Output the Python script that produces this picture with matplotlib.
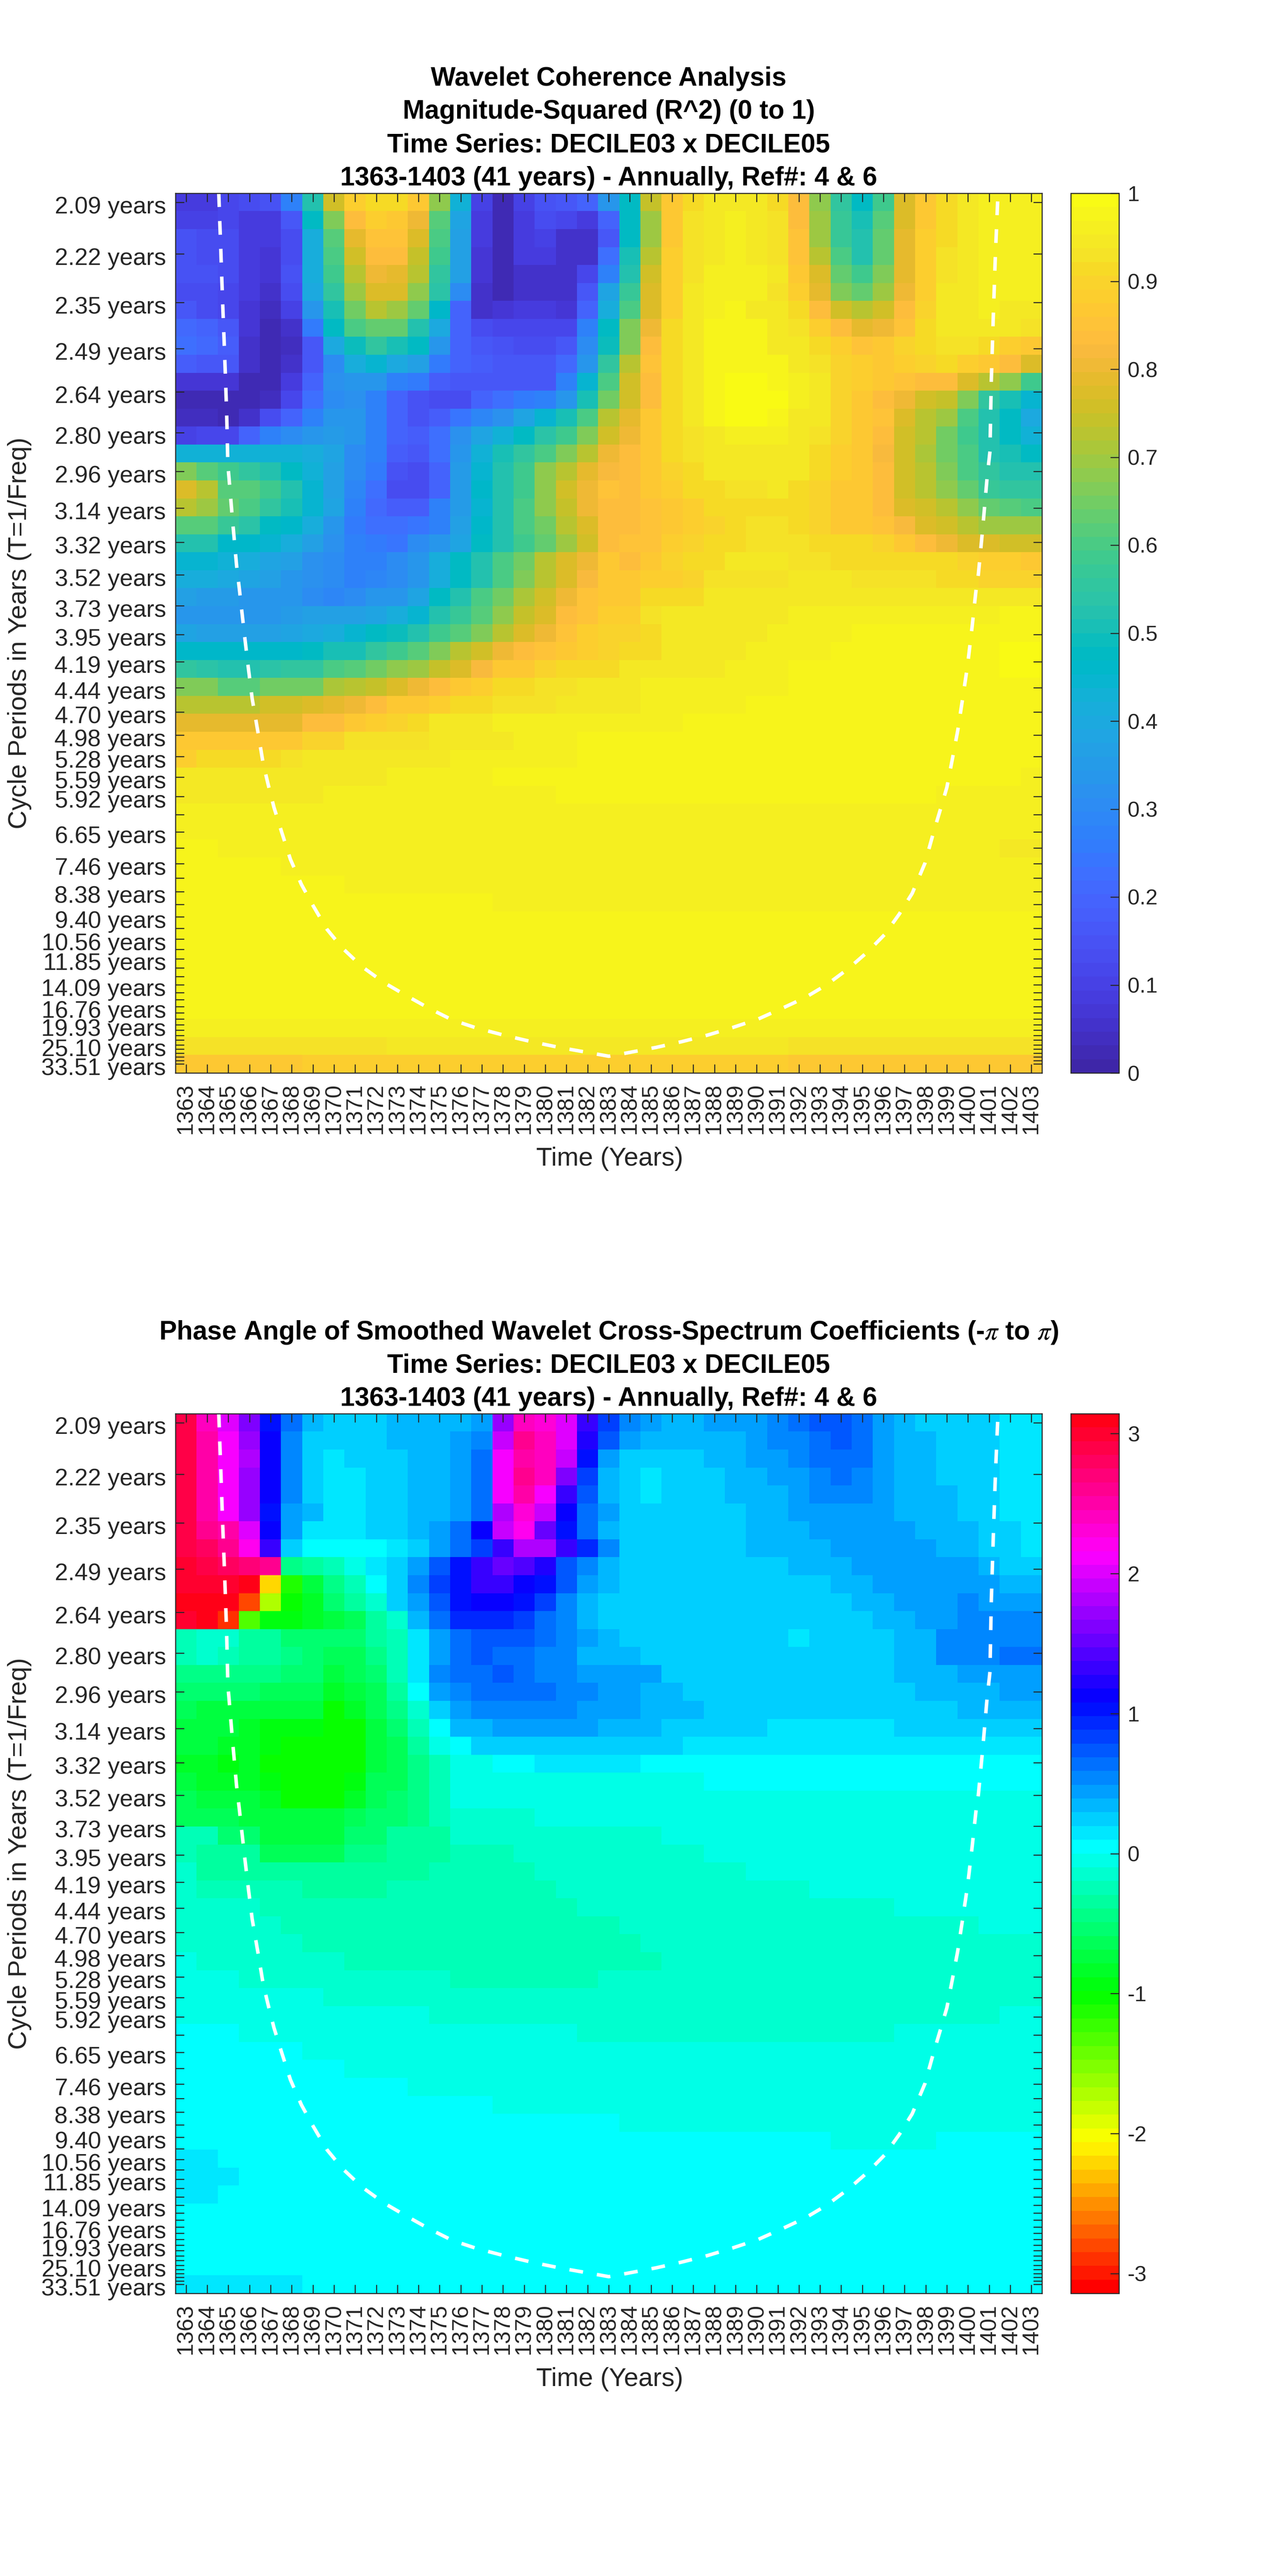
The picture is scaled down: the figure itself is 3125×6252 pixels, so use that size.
import colorsys
import numpy as np
import matplotlib
matplotlib.use("Agg")
import matplotlib.pyplot as plt
from matplotlib.colors import ListedColormap
from matplotlib.transforms import ScaledTranslation

plt.rcParams['font.family'] = ['Liberation Sans', 'DejaVu Sans']
plt.rcParams['mathtext.fontset'] = 'stix'

YEARS = list(range(1363, 1404))
PERIOD_MAX = 33.51
PERIODS = [PERIOD_MAX / 2 ** (k / 12) for k in range(48, -1, -1)]
LABELLED = [2.09, 2.22, 2.35, 2.49, 2.64, 2.80, 2.96, 3.14, 3.32, 3.52, 3.73, 3.95, 4.19, 4.44, 4.70,
            4.98, 5.28, 5.59, 5.92, 6.65, 7.46, 8.38, 9.40, 10.56, 11.85, 14.09, 16.76, 19.93, 25.10, 33.51]

# Coherence values in percent, one list per period row, 41 years each
C01 = [8,9,12,14,15,28,53,76,88,92,92,86,68,43,10,3,10,15,17,19,33, 48,74,87,92,95,95,95,92,84,68,55,47,58,77,87,92,95,96,96,96]
C02 = [10,10,12,9,9,17,47,66,84,88,87,81,62,38,9,2,8,13,11,9,19, 47,70,87,93,95,96,95,93,84,69,57,50,61,78,87,92,95,96,96,96]
C03 = [15,14,14,9,8,14,42,62,79,85,85,78,60,37,8,2,8,10,6,6,17, 47,70,87,93,95,96,95,93,85,69,57,52,63,79,88,92,95,96,96,96]
C04 = [15,14,13,9,7,14,42,60,76,84,84,74,58,36,7,2,8,9,5,6,22, 50,73,88,93,95,96,95,93,85,72,60,53,64,79,88,93,95,96,96,96]
C05 = [15,15,13,9,7,15,42,58,72,80,79,72,56,36,7,2,6,5,5,12,28, 53,76,88,93,96,96,96,95,87,77,64,58,66,79,88,93,95,96,96,96]
C06 = [13,13,12,9,6,14,40,56,70,77,77,68,54,30,6,3,5,5,5,17,38, 57,77,89,95,96,96,96,93,89,79,66,64,70,80,88,94,95,96,96,96]
C07 = [17,13,12,7,4,10,33,51,65,72,70,63,46,19,6,7,8,8,7,19,42, 60,78,89,95,96,97,95,95,92,84,75,72,75,84,90,95,95,96,95,95]
C08 = [21,19,16,7,3,6,25,47,60,63,63,53,40,19,13,12,12,12,11,27,47, 66,80,91,95,97,97,97,95,93,89,83,79,80,85,92,95,95,95,94,93]
C09 = [22,21,18,6,2,4,16,40,49,55,51,47,33,19,17,15,13,13,16,31,49, 67,83,91,95,97,97,97,95,95,91,88,85,86,90,92,93,93,92,89,86]
C10 = [18,17,16,5,2,6,17,30,42,45,40,36,25,20,18,16,16,17,21,33,55, 72,85,92,95,97,97.5,97.5,97,95,93,90,88,86,88,90,91,89,87,83,78]
C11 = [7,7,7,3,3,9,20,32,33,33,28,25,18,17,17,17,17,17,27,44,60, 75,84,91,95,97,100,100,97.5,96,95,90,88,86,85,84,83,78,73,68,58]
C12 = [2,2,2,2,4,12,22,31,32,28,20,15,14,13,20,23,26,27,33,50,65, 75,84,91,95,97,100,100,100,96,94,90,87,84,80,76,74,66,56,51,44]
C13 = [4,4,3,6,13,19,27,33,33,27,19,15,18,24,29,32,38,44,50,60,72, 79,87,92,95,97,100,100,97,95,94,90,87,85,78,73,69,60,53,47,40]
C14 = [10,11,12,20,27,31,34,35,33,27,20,18,22,32,38,43,47,54,59,67,76, 80,87,92,93,95,96,96,96,95,93,90,87,84,76,72,65,58,53,48,43]
C15 = [43,43,43,43,43,43,42,39,30,27,18,17,23,33,43,50,55,60,66,73,81, 83,87,92,93,95,95,95,95,95,92,89,87,82,76,71,65,60,53,50,48]
C16 = [66,62,58,55,52,47,43,37,30,25,15,14,20,35,45,52,59,68,72,79,82, 83,87,90,92,94,95,95,95,95,92,89,87,83,76,72,67,60,55,53,53]
C17 = [77,73,62,61,58,52,45,36,29,22,14,13,19,35,46,52,58,68,75,81,85, 84,87,88,91,92,93,93,94,92,90,87,86,83,76,73,68,63,57,56,56]
C18 = [73,69,64,60,55,50,45,38,28,21,18,18,27,35,44,52,60,68,74,80,84, 84,85,86,89,92,92,92,92,92,90,87,86,83,78,75,72,68,63,62,60]
C19 = [61,61,57,54,48,46,42,34,25,23,22,24,28,37,46,53,60,65,72,77,83, 83,85,87,88,90,92,93,93,92,90,87,87,85,82,78,75,72,70,69,69]
C20 = [53,53,46,46,45,41,37,32,28,26,24,30,33,38,47,52,59,64,70,76,83, 85,85,88,90,91,92,93,93,93,92,91,91,90,86,84,81,78,77,76,76]
C21 = [45,44,43,41,38,37,32,30,27,27,30,33,41,48,53,60,65,72,77,81,86, 84,86,90,91,92,94,94,94,93,93,92,92,92,92,92,91,90,88,88,86]
C22 = [42,42,40,38,37,34,32,30,27,29,30,34,41,47,53,60,66,72,78,82,86, 87,88,89,90,93,93,93,93,94,94,94,93,93,93,93,91,91,90,90,90]
C23 = [37,35,35,34,33,33,31,29,31,33,33,38,47,53,60,65,71,76,81,85,86, 87,91,91,92,94,94,95,95,95,95,95,95,95,95,95,95,95,95,95,95]
C24 = [34,34,34,34,34,35,36,37,37,39,41,44,52,57,62,68,74,78,83,85,88, 88,93,94,94,94.5,95,95,95,96.5,96.5,96.5,96.5,96.5,96.5,96.5,96.5,96.5,96.5,97.5,97.5]
C25 = [39,36,36,36,37,38,40,42,44,47,49,53,59,62,66,73,77,80,85,88,90, 90,92,94,94.5,94.5,95,95,96.5,96.5,96.5,96.5,97.5,97.5,97.5,97.5,97.5,97.5,97.5,97.5,97.5]
C26 = [46,46,46,46,46,46,47,50,51,55,58,62,66,72,76,81,84,85,87,89,90, 92,92,94,94,95,95,96.5,96.5,96.5,96.5,97.5,97.5,97.5,97.5,97.5,97.5,97.5,97.5,100,100]
C27 = [55,54,53,53,54,55,56,60,62,65,68,70,74,77,82,87,87,90,91,91,91, 94,94,94,95,95,96.5,96.5,96.5,97.5,97.5,97.5,97.5,97.5,97.5,97.5,97.5,97.5,97.5,100,100]
C28 = [66,66,62,62,65,65,65,71,72,74,78,80,84,87,88,91,92,93,93,94,94, 95,96,96,96,96.5,96.5,96.5,96.5,97.5,97.5,97.5,97.5,97.5,97.5,97.5,97.5,97.5,97.5,97.5,97.5]
C29 = [72,72,72,72,75,75,78,79,81,83,86,87,89,91,92,93,93,93,94,94,95, 95,96.5,96.5,96.5,96.5,96.5,97.5,97.5,97.5,97.5,97.5,97.5,97.5,97.5,97.5,97.5,97.5,97.5,97.5,97.5]
C30 = [79,79,79,79,79,79,83,83,86,88,90,92,94,95,95,96,96,96,96,96,96, 96.5,96.5,96.5]+[97.5]*17
C31 = [86,86,86,86,87,87,90,90,93,93,93,93,94,95,95,95,96,96,96,97.5,97.5]+[97.5]*20
C32 = [88,91,91,91,91,93,94,94,94,94,95,95,95,96.5,96.5,96.5,96.5,96.5,96.5,97.5,97.5]+[97.5]*20
C33 = [94.5]*6+[95]*4+[96.5]*5+[97.5]*25+[96.5]
C34 = [95]*7+[96.5]*11+[97.5]*18+[96.5]*5
C35 = [96.5]*41
C36 = [96.5]*41
C37 = [97.5]*2+[96.5]*37+[95]*2
C38 = [97.5]*5+[96.5]*36
C39 = [97.5]*8+[96.5]*33
C40 = [97.5]*15+[96.5]*26
C41 = [97.5]*41
C42 = [97.5]*41
C43 = [97.5]*41
C44 = [97.5]*41
C45 = [97.5]*41
C46 = [97.5]*41
C47 = [96]*41
C48 = [93]*10+[94.5]*19+[93]*12
C49 = [87]*6+[88]*23+[87]*12

# Phase angles in hundredths of a radian
P01 = [285,245,205,160,105,65,38,28,28,28,33,33,33,33,40,168,245,230,200,135,85, 55,45,35,35,42,42,42,50,60,72,72,60,42,38,28,28,28,20,17,17]
P02 = [290,255,210,170,112,55,27,27,27,27,33,33,33,42,50,195,260,240,200,120,70, 45,30,30,38,38,38,42,52,52,60,72,60,42,36,36,28,28,28,18,18]
P03 = [290,255,210,185,110,55,27,15,20,20,24,33,33,42,62,210,255,240,195,105,48, 27,27,27,27,36,36,42,42,55,62,62,62,42,36,36,28,28,28,18,18]
P04 = [285,255,210,170,110,55,27,17,17,24,24,33,33,42,62,210,260,245,160,80,38, 28,12,27,27,27,33,33,42,45,58,68,58,44,36,36,27,27,27,17,17]
P05 = [285,255,210,170,112,55,27,15,15,24,24,33,33,42,62,210,250,210,130,70,38, 28,12,27,27,27,33,33,33,45,55,55,55,44,36,36,36,26,26,15,15]
P06 = [285,255,210,170,105,45,30,15,15,24,24,33,33,42,68,185,230,190,115,60,42, 27,27,27,27,27,27,38,38,45,45,45,45,45,36,36,36,26,26,13,13]
P07 = [285,265,255,200,112,45,14,14,14,20,20,33,42,60,115,195,220,155,102,60,33, 27,27,27,27,27,27,38,38,38,45,45,45,45,45,36,36,36,22,22,12]
P08 = [285,275,260,220,135,25,5,5,5,5,15,27,42,62,85,135,185,185,135,95,52, 27,27,27,27,27,27,33,33,33,33,45,45,45,45,45,38,38,20,20,12]
P09 = [295,285,280,270,260,-40,-30,-20,-5,12,27,42,70,105,135,155,145,120,78,55,38]+[27]*8+[35]*3+[45]*6+[38,20,20]
P10 = [300,295,300,314,-225,-110,-70,-40,-20,5,27,52,80,105,130,130,115,105,72,45,33]+[26]*10+[33]*2+[45]*6+[32]*2
P11 = [305,305,310,-275,-175,-105,-85,-55,-30,-12,20,45,72,105,110,110,105,80,52,38,22]+[24]*11+[33]*2+[43]*3+[52]+[42]*3
P12 = [295,305,-290,-135,-95,-90,-85,-70,-60,-35,-10,30,68,90,95,95,80,60,52,35,25]+[24]*12+[33]*2+[43]*2+[52]*4
P13 = [-20,-10,-18,-35,-38,-55,-55,-55,-55,-38,-20,10,45,62,72,72,72,60,52,40,34]+[24]*8+[10]+[24]*4+[37]*2+[50]*2+[55]*3
P14 = [-28,-15,-20,-32,-35,-40,-55,-60,-60,-45,-22,12,45,65,72,68,60,55,52,38,33]+[38]+[24]*12+[37]*2+[50]*3+[60]*2
P15 = [-45,-45,-45,-45,-45,-55,-55,-75,-65,-55,-25,12,50,65,65,72,60,55,50,42,42]+[40]*2+[24]*11+[36]*3+[45]*4
P16 = [-55,-55,-55,-55,-65,-65,-65,-85,-75,-60,-30,5,42,55,60,60,60,60,52,52,48]+[48]+[36]*2+[24]*11+[33]*4+[42]*2
P17 = [-60,-70,-70,-70,-75,-75,-75,-100,-85,-65,-40,-10,28,42,52,52,52,52,52,45,45]+[48]+[33]*3+[24]*12+[33]*4
P18 = [-75,-75,-75,-85,-95,-95,-95,-105,-100,-70,-55,-20,5,30,38,45,45,45,45,45,38]+[38]*2+[26]*5+[15]*6+[28]*7
P19 = [-75,-75,-80,-85,-95,-100,-100,-105,-105,-70,-65,-30,-5,5,20,28,28,28,28,28,28]+[26]*3+[15]*17
P20 = [-80,-80,-95,-85,-100,-105,-105,-105,-105,-70,-65,-45,-20,-5,-5,5,5,15,15,15,15]+[15]+[5]*19
P21 = [-75,-80,-80,-80,-90,-100,-105,-105,-95,-65,-60,-45,-20,-8,-8,-5,-5,-5,-5,-5,-5]+[-5]*4+[5]*16
P22 = [-60,-75,-75,-75,-85,-100,-100,-100,-80,-60,-55,-45,-20,-8,-8,-5,-5,-5,-5,-5,-5]+[-5]*20
P23 = [-65,-65,-65,-70,-70,-70,-70,-70,-60,-55,-50,-40,-25,-15,-15,-15,-15,-5,-5,-5,-5]+[-5]*20
P24 = [-25]*2+[-50]*2+[-75]*4+[-55]*2+[-35]*3+[-15]*8+[-15]*2+[-5]*18
P25 = [-20]+[-35]*3+[-60]*4+[-45]*2+[-35]*3+[-25]*3+[-15]*9+[-5]*16
P26 = [-15]+[-35]*11+[-25]*5+[-15]*10+[-5]*14
P27 = [-15]+[-25]*5+[-35]*4+[-25]*8+[-15]*12+[-5]*11
P28 = [-15]*4+[-25]*15+[-15]*15+[-5]*7
P29 = [-15]*5+[-25]*16+[-15]*17+[-5]*3
P30 = [-15]*6+[-25]*16+[-15]*19
P31 = [-5]+[-15]*7+[-25]*15+[-15]*18
P32 = [-5]*3+[-15]*10+[-25]*7+[-15]*21
P33 = [-5]*7+[-15]*34
P34 = [-5]*12+[-15]*27+[-5]*2
P35 = [5]*3+[-5]*16+[-15]*15+[-5]*7
P36 = [5]*6+[-5]*35
P37 = [5]*8+[-5]*33
P38 = [5]*11+[-5]*30
P39 = [5]*15+[-5]*26
P40 = [5]*21+[-5]*20
P41 = [5]*31+[-5]*5+[5]*5
P42 = [15]*2+[5]*39
P43 = [15]*3+[5]*38
P44 = [15]*2+[5]*39
P45 = [5]*41
P46 = [5]*41
P47 = [5]*41
P48 = [5]*41
P49 = [15]*6+[5]*35

COH_ROWS = [C01,C02,C03,C04,C05,C06,C07,C08,C09,C10,C11,C12,C13,C14,C15,C16,C17,C18,C19,C20,C21,C22,C23,C24,C25,
            C26,C27,C28,C29,C30,C31,C32,C33,C34,C35,C36,C37,C38,C39,C40,C41,C42,C43,C44,C45,C46,C47,C48,C49]
PHA_ROWS = [P01,P02,P03,P04,P05,P06,P07,P08,P09,P10,P11,P12,P13,P14,P15,P16,P17,P18,P19,P20,P21,P22,P23,P24,P25,
            P26,P27,P28,P29,P30,P31,P32,P33,P34,P35,P36,P37,P38,P39,P40,P41,P42,P43,P44,P45,P46,P47,P48,P49]
bad = [(n, i + 1, len(r)) for n, rows in (("C", COH_ROWS), ("P", PHA_ROWS)) for i, r in enumerate(rows) if len(r) != 41]
if bad:
    print("BAD ROW LENGTHS", bad)
    COH_ROWS = [(list(r) + [r[-1]] * 41)[:41] for r in COH_ROWS]
    PHA_ROWS = [(list(r) + [r[-1]] * 41)[:41] for r in PHA_ROWS]
COHERENCE = np.array(COH_ROWS, float) / 100
PHASE = np.array(PHA_ROWS, float) / 100

# Cone of influence: (year position, row position)
COI_X = [2.55,2.64,2.73,2.83,2.92,2.98,3.2,3.39,3.52,3.76,3.95,4.13,4.41,4.65,4.88,5.16,5.53,5.94,6.46,7.02,7.67,8.41,
         9.35,10.37,11.39,12.5,13.6,14.75,16.05,17.35,18.66,19.96,21.0,21.62,23.24,24.45,25.66,26.87,28.09,29.3,30.3,
         31.3,32.33,33.24,34.05,34.75,35.36,35.97,36.37,36.7,37.0,37.28,37.52,37.74,37.98,38.19,38.39,38.49,38.69,
         38.9,39.04,39.1,39.2,39.3,39.42]
COI_Y = [0.5,3.45,6.5,9.55,12.6,15.6,18.7,21.2,22.5,25.04,26.95,28.65,30.56,32.26,33.4,34.7,36.1,37.6,39.0,40.2,41.5,42.56,
         43.6,44.47,45.17,45.9,46.55,47.0,47.4,47.76,48.08,48.35,48.57,48.44,48.08,47.76,47.4,46.97,46.49,45.85,45.3,
         44.6,43.7,42.77,41.8,40.65,39.5,37.8,36.1,34.8,33.6,31.9,30.4,28.7,26.8,24.7,22.5,21.74,19.26,
         16.4,14.88,11.07,7.26,3.83,0.5]

TITLES_TOP = ["Wavelet Coherence Analysis", "Magnitude-Squared (R^2) (0 to 1)",
              "Time Series: DECILE03 x DECILE05", "1363-1403 (41 years) - Annually, Ref#: 4 & 6"]
TITLES_BOTTOM = [r"Phase Angle of Smoothed Wavelet Cross-Spectrum Coefficients (-$\pi$ to $\pi$)",
                 "Time Series: DECILE03 x DECILE05", "1363-1403 (41 years) - Annually, Ref#: 4 & 6"]

PARULA = [
 (0.2422,0.1504,0.6603),(0.2504,0.1650,0.7076),(0.2578,0.1818,0.7511),(0.2647,0.1978,0.7952),(0.2706,0.2147,0.8364),
 (0.2751,0.2342,0.8710),(0.2783,0.2559,0.8991),(0.2803,0.2782,0.9221),(0.2813,0.3006,0.9414),(0.2810,0.3228,0.9579),
 (0.2795,0.3447,0.9717),(0.2760,0.3667,0.9829),(0.2699,0.3892,0.9906),(0.2602,0.4123,0.9952),(0.2440,0.4358,0.9988),
 (0.2206,0.4603,0.9973),(0.1963,0.4847,0.9892),(0.1834,0.5074,0.9798),(0.1786,0.5289,0.9682),(0.1764,0.5499,0.9520),
 (0.1687,0.5703,0.9359),(0.1540,0.5902,0.9218),(0.1460,0.6091,0.9079),(0.1380,0.6276,0.8973),(0.1248,0.6459,0.8883),
 (0.1113,0.6635,0.8763),(0.0952,0.6798,0.8598),(0.0689,0.6948,0.8394),(0.0297,0.7082,0.8163),(0.0036,0.7203,0.7917),
 (0.0067,0.7312,0.7660),(0.0433,0.7411,0.7394),(0.0964,0.7500,0.7120),(0.1408,0.7584,0.6842),(0.1717,0.7670,0.6554),
 (0.1938,0.7758,0.6251),(0.2161,0.7843,0.5923),(0.2470,0.7918,0.5567),(0.2906,0.7973,0.5188),(0.3406,0.8008,0.4789),
 (0.3909,0.8029,0.4354),(0.4456,0.8024,0.3909),(0.5044,0.7993,0.3480),(0.5616,0.7942,0.3045),(0.6174,0.7876,0.2612),
 (0.6720,0.7793,0.2227),(0.7242,0.7698,0.1910),(0.7738,0.7598,0.1646),(0.8203,0.7498,0.1535),(0.8634,0.7406,0.1596),
 (0.9035,0.7330,0.1774),(0.9393,0.7288,0.2100),(0.9728,0.7298,0.2394),(0.9956,0.7434,0.2371),(0.9970,0.7659,0.2199),
 (0.9952,0.7861,0.1967),(0.9892,0.8086,0.1816),(0.9786,0.8288,0.1732),(0.9676,0.8568,0.1490),(0.9610,0.8890,0.1537),
 (0.9597,0.9135,0.1423),(0.9628,0.9373,0.1265),(0.9691,0.9606,0.1064),(0.9769,0.9839,0.0805)]
cmap_parula = ListedColormap(PARULA)
cmap_hsv = ListedColormap([colorsys.hsv_to_rgb(i / 64, 1, 1) for i in range(64)])

W, H = 3125, 6252
DPI = 300
INK = '#262626'
fig = plt.figure(figsize=(W / DPI, H / DPI), dpi=DPI, facecolor='white')


def box(l, t, r, b):
    return [l / W, 1 - b / H, (r - l) / W, (b - t) / H]


def period_pos(p):
    f1, fn = 1 / PERIODS[0], 1 / PERIODS[-1]
    return 1 + 48 * (f1 - 1 / p) / (f1 - fn)


def period_label(p):
    for lab in LABELLED:
        if abs(p - lab) < 0.015:
            return f"{lab:.2f} years"
    return ""


def panel(data, top, bottom, cmap, vmin, vmax, cticks, clabels, titles, title_base):
    ax = fig.add_axes(box(426, top, 2530, bottom))
    im = ax.imshow(data, cmap=cmap, vmin=vmin, vmax=vmax, aspect='auto', interpolation='nearest',
                   extent=(0.5, 41.5, 49.5, 0.5))
    ax.plot(COI_X, COI_Y, color='white', lw=2.05, linestyle=(0, (3.9, 4.0)), dash_capstyle='butt')
    ax.set_xlim(0.5, 41.5)
    ax.set_ylim(49.5, 0.5)
    ax.set_xticks(range(1, 42))
    ax.set_xticklabels([str(y) for y in YEARS], rotation=90, fontsize=13.3, color=INK)
    ax.set_yticks([period_pos(p) for p in PERIODS])
    ax.set_yticklabels([period_label(p) for p in PERIODS], fontsize=13.9, color=INK)
    ax.tick_params(axis='both', direction='in', length=5, width=0.6, color=INK, top=True, right=True)
    ax.tick_params(axis='x', pad=6)
    ax.tick_params(axis='y', pad=5.5)
    shift = ScaledTranslation(0, -6 / DPI, fig.dpi_scale_trans)
    for lab in ax.get_yticklabels():
        lab.set_transform(lab.get_transform() + shift)
    for s in ax.spines.values():
        s.set_linewidth(0.6)
        s.set_color(INK)
    fig.text(1480 / W, 1 - (bottom + 225) / H, "Time (Years)", fontsize=15.2, color=INK, ha='center', va='baseline')
    fig.text(48 / W, 1 - (top + bottom) / 2 / H, "Cycle Periods in Years (T=1/Freq)", fontsize=15.2, color=INK,
             rotation=90, ha='center', va='center')
    for txt, base in zip(titles, title_base):
        fig.text(1478 / W, 1 - base / H, txt, fontsize=15.3, fontweight='bold', color='black',
                 ha='center', va='baseline')
    cax = fig.add_axes(box(2600, top, 2717, bottom))
    cb = fig.colorbar(im, cax=cax)
    cb.set_ticks(cticks)
    cb.set_ticklabels(clabels)
    cax.tick_params(direction='in', length=5, width=0.6, color=INK, labelsize=12.6, labelcolor=INK, pad=5, right=True)
    cb.outline.set_linewidth(0.6)
    cb.outline.set_edgecolor(INK)


panel(COHERENCE, 469, 2604, cmap_parula, 0, 1,
      [0, .1, .2, .3, .4, .5, .6, .7, .8, .9, 1], ['0', '0.1', '0.2', '0.3', '0.4', '0.5', '0.6', '0.7', '0.8', '0.9', '1'],
      TITLES_TOP, [208, 288, 369, 450])
panel(PHASE, 3431, 5566, cmap_hsv, -np.pi, np.pi,
      [-3, -2, -1, 0, 1, 2, 3], ['-3', '-2', '-1', '0', '1', '2', '3'],
      TITLES_BOTTOM, [3251, 3332, 3412])

fig.savefig('out.png', dpi=DPI, facecolor='white')
